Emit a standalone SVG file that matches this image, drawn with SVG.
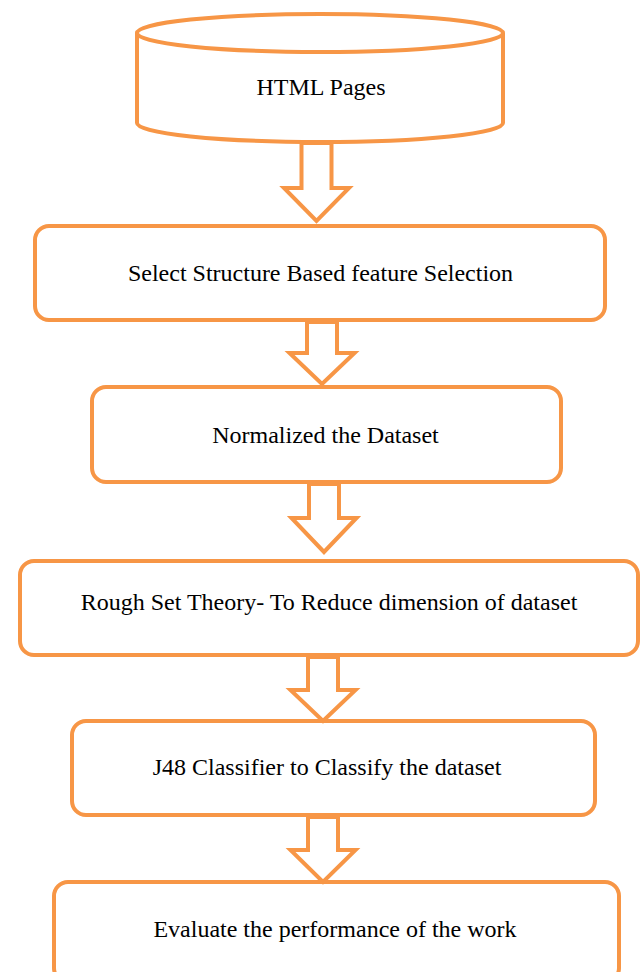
<svg xmlns="http://www.w3.org/2000/svg" width="643" height="972" viewBox="0 0 643 972">
<style>
.shape{fill:#FFFFFF;stroke:#F79646;stroke-width:4;stroke-linejoin:miter}
.box{fill:#FFFFFF;stroke:#F79646;stroke-width:4}
.arrow{fill:#FFFFFF;stroke:#F79646;stroke-width:4;stroke-linejoin:miter}
.lbl{font-family:"Liberation Serif","Times New Roman",serif;font-size:24px;fill:#000000;text-anchor:middle}
</style>
<rect width="643" height="972" fill="#FFFFFF"/>
<g id="n1">
<path class="shape" d="M137,33 L137,123 A183,19 0 0 0 503,123 L503,33"/>
<ellipse class="shape" cx="320" cy="33" rx="183" ry="19"/>
<text class="lbl" x="321" y="95">HTML Pages</text>
</g>
<g id="n2">
<rect class="box" x="35" y="226" width="570" height="94" rx="14"/>
<text class="lbl" x="320.5" y="281">Select Structure Based feature Selection</text>
</g>
<g id="n3">
<rect class="box" x="92" y="387" width="469" height="95" rx="14"/>
<text class="lbl" x="325.5" y="443">Normalized the Dataset</text>
</g>
<g id="n4">
<rect class="box" x="20" y="561" width="618" height="94" rx="14"/>
<text class="lbl" x="329" y="610">Rough Set Theory- To Reduce dimension of dataset</text>
</g>
<g id="n5">
<rect class="box" x="72" y="721" width="523" height="94" rx="14"/>
<text class="lbl" x="327" y="775">J48 Classifier to Classify the dataset</text>
</g>
<g id="n6">
<rect class="box" x="54" y="882" width="565" height="100" rx="14"/>
<text class="lbl" x="335" y="937">Evaluate the performance of the work</text>
</g>
<g id="connectors">
<polygon class="arrow" points="301.5,143 331.5,143 331.5,188 349,188 316.5,221 284,188 301.5,188"/>
<polygon class="arrow" points="307,322 337,322 337,353 354.5,353 322,384 289.5,353 307,353"/>
<polygon class="arrow" points="309,484 339,484 339,518 356.5,518 324,552 291.5,518 309,518"/>
<polygon class="arrow" points="308,657 338,657 338,690 355.5,690 323,721 290.5,690 308,690"/>
<polygon class="arrow" points="308,817 338,817 338,850 355.5,850 323,882 290.5,850 308,850"/>
</g>
</svg>
